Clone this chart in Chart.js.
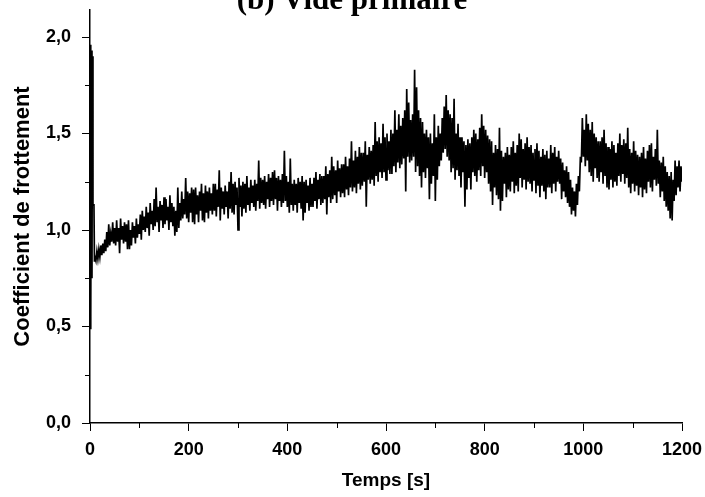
<!DOCTYPE html>
<html>
<head>
<meta charset="utf-8">
<script src="https://cdn.jsdelivr.net/npm/chart.js@4.4.1/dist/chart.umd.min.js"></script>
<style>
html,body{margin:0;padding:0;background:#fff;}
#wrap{position:relative;width:705px;height:497px;overflow:hidden;background:#fff;}
canvas{display:block;}
</style>
</head>
<body>
<div id="wrap"><canvas id="c" width="705" height="497"></canvas></div>
<script>
const chartTitle = "(b) Vide primaire";
const xTitle = "Temps [s]";
const yTitle = "Coefficient de frottement";

const xTickValues = [0, 200, 400, 600, 800, 1000, 1200];
const yTickValues = [0, 0.5, 1.0, 1.5, 2.0];
const xMinorTicks = [100, 300, 500, 700, 900, 1100];
const yMinorTicks = [0.25, 0.75, 1.25, 1.75];

const temps = [
  0, 1, 2, 3, 4, 5, 6, 8, 9, 10,
  12, 14, 16, 18, 20, 22, 24, 26, 28, 30,
  32, 34, 36, 38, 40, 42, 44, 46, 48, 50,
  52, 54, 56, 58, 60, 62, 64, 66, 68, 70,
  72, 74, 76, 78, 80, 82, 84, 86, 88, 90,
  92, 94, 96, 98, 100, 102, 104, 106, 108, 110,
  112, 114, 116, 118, 120, 122, 124, 126, 128, 130,
  132, 134, 136, 138, 140, 142, 144, 146, 148, 150,
  152, 154, 156, 158, 160, 162, 164, 166, 168, 170,
  172, 174, 176, 178, 180, 182, 184, 186, 188, 190,
  192, 194, 196, 198, 200, 202, 204, 206, 208, 210,
  212, 214, 216, 218, 220, 222, 224, 226, 228, 230,
  232, 234, 236, 238, 240, 242, 244, 246, 248, 250,
  252, 254, 256, 258, 260, 262, 264, 266, 268, 270,
  272, 274, 276, 278, 280, 282, 284, 286, 288, 290,
  292, 294, 296, 298, 300, 302, 304, 306, 308, 310,
  312, 314, 316, 318, 320, 322, 324, 326, 328, 330,
  332, 334, 336, 338, 340, 342, 344, 346, 348, 350,
  352, 354, 356, 358, 360, 362, 364, 366, 368, 370,
  372, 374, 376, 378, 380, 382, 384, 386, 388, 390,
  392, 394, 396, 398, 400, 402, 404, 406, 408, 410,
  412, 414, 416, 418, 420, 422, 424, 426, 428, 430,
  432, 434, 436, 438, 440, 442, 444, 446, 448, 450,
  452, 454, 456, 458, 460, 462, 464, 466, 468, 470,
  472, 474, 476, 478, 480, 482, 484, 486, 488, 490,
  492, 494, 496, 498, 500, 502, 504, 506, 508, 510,
  512, 514, 516, 518, 520, 522, 524, 526, 528, 530,
  532, 534, 536, 538, 540, 542, 544, 546, 548, 550,
  552, 554, 556, 558, 560, 562, 564, 566, 568, 570,
  572, 574, 576, 578, 580, 582, 584, 586, 588, 590,
  592, 594, 596, 598, 600, 602, 604, 606, 608, 610,
  612, 614, 616, 618, 620, 622, 624, 626, 628, 630,
  632, 634, 636, 638, 640, 642, 644, 646, 648, 650,
  652, 654, 656, 658, 660, 662, 664, 666, 668, 670,
  672, 674, 676, 678, 680, 682, 684, 686, 688, 690,
  692, 694, 696, 698, 700, 702, 704, 706, 708, 710,
  712, 714, 716, 718, 720, 722, 724, 726, 728, 730,
  732, 734, 736, 738, 740, 742, 744, 746, 748, 750,
  752, 754, 756, 758, 760, 762, 764, 766, 768, 770,
  772, 774, 776, 778, 780, 782, 784, 786, 788, 790,
  792, 794, 796, 798, 800, 802, 804, 806, 808, 810,
  812, 814, 816, 818, 820, 822, 824, 826, 828, 830,
  832, 834, 836, 838, 840, 842, 844, 846, 848, 850,
  852, 854, 856, 858, 860, 862, 864, 866, 868, 870,
  872, 874, 876, 878, 880, 882, 884, 886, 888, 890,
  892, 894, 896, 898, 900, 902, 904, 906, 908, 910,
  912, 914, 916, 918, 920, 922, 924, 926, 928, 930,
  932, 934, 936, 938, 940, 942, 944, 946, 948, 950,
  952, 954, 956, 958, 960, 962, 964, 966, 968, 970,
  972, 974, 976, 978, 980, 982, 984, 986, 988, 990,
  992, 994, 996, 998, 1000, 1002, 1004, 1006, 1008, 1010,
  1012, 1014, 1016, 1018, 1020, 1022, 1024, 1026, 1028, 1030,
  1032, 1034, 1036, 1038, 1040, 1042, 1044, 1046, 1048, 1050,
  1052, 1054, 1056, 1058, 1060, 1062, 1064, 1066, 1068, 1070,
  1072, 1074, 1076, 1078, 1080, 1082, 1084, 1086, 1088, 1090,
  1092, 1094, 1096, 1098, 1100, 1102, 1104, 1106, 1108, 1110,
  1112, 1114, 1116, 1118, 1120, 1122, 1124, 1126, 1128, 1130,
  1132, 1134, 1136, 1138, 1140, 1142, 1144, 1146, 1148, 1150,
  1152, 1154, 1156, 1158, 1160, 1162, 1164, 1166, 1168, 1170,
  1172, 1174, 1176, 1178, 1180, 1182, 1184, 1186, 1188, 1190,
  1192, 1194, 1196, 1198, 1200
];

const coef = [
  0.49, 1.96, 0.55, 1.93, 0.75, 1.90, 1.13, 1.13, 0.84, 0.86,
  0.84, 0.89, 0.85, 0.90, 0.86, 0.92, 0.87, 0.93, 0.88, 0.95,
  0.89, 0.99, 0.91, 1.03, 0.92, 0.98, 0.94, 1.04, 0.93, 1.01,
  0.92, 1.05, 0.94, 1.01, 0.88, 1.06, 0.95, 1.02, 0.93, 1.04,
  0.94, 1.03, 0.90, 1.05, 0.90, 1.00, 0.92, 1.04, 0.96, 1.02,
  0.93, 1.06, 0.96, 1.03, 0.98, 1.08, 0.95, 1.10, 1.00, 1.07,
  0.99, 1.12, 1.01, 1.09, 0.97, 1.14, 1.03, 1.10, 1.00, 1.16,
  1.02, 1.22, 1.04, 1.12, 0.99, 1.15, 1.05, 1.13, 1.01, 1.17,
  1.03, 1.16, 1.05, 1.12, 1.00, 1.18, 1.04, 1.14, 1.02, 1.12,
  0.97, 1.10, 0.99, 1.22, 1.01, 1.14, 1.05, 1.20, 1.06, 1.16,
  1.08, 1.27, 1.06, 1.20, 1.04, 1.19, 1.09, 1.22, 1.04, 1.21,
  1.03, 1.22, 1.08, 1.18, 1.04, 1.20, 1.10, 1.24, 1.05, 1.19,
  1.04, 1.23, 1.09, 1.20, 1.06, 1.22, 1.10, 1.19, 1.08, 1.24,
  1.10, 1.24, 1.07, 1.21, 1.12, 1.31, 1.05, 1.22, 1.11, 1.20,
  1.08, 1.23, 1.12, 1.20, 1.06, 1.25, 1.11, 1.30, 1.09, 1.24,
  1.08, 1.25, 1.13, 1.22, 1.00, 1.27, 1.12, 1.23, 1.07, 1.25,
  1.11, 1.24, 1.09, 1.28, 1.13, 1.22, 1.10, 1.26, 1.14, 1.23,
  1.12, 1.26, 1.10, 1.24, 1.15, 1.36, 1.11, 1.27, 1.14, 1.26,
  1.13, 1.28, 1.11, 1.25, 1.16, 1.29, 1.12, 1.27, 1.15, 1.30,
  1.13, 1.31, 1.16, 1.27, 1.10, 1.28, 1.15, 1.26, 1.12, 1.29,
  1.14, 1.41, 1.15, 1.28, 1.12, 1.25, 1.09, 1.37, 1.13, 1.24,
  1.10, 1.26, 1.13, 1.24, 1.09, 1.27, 1.14, 1.25, 1.11, 1.28,
  1.05, 1.25, 1.09, 1.26, 1.14, 1.23, 1.10, 1.27, 1.12, 1.24,
  1.12, 1.27, 1.15, 1.30, 1.11, 1.26, 1.16, 1.29, 1.13, 1.28,
  1.14, 1.28, 1.16, 1.33, 1.08, 1.29, 1.17, 1.31, 1.14, 1.38,
  1.16, 1.33, 1.18, 1.31, 1.14, 1.36, 1.20, 1.32, 1.17, 1.34,
  1.19, 1.34, 1.17, 1.38, 1.21, 1.33, 1.18, 1.37, 1.22, 1.46,
  1.20, 1.36, 1.22, 1.41, 1.19, 1.38, 1.24, 1.43, 1.21, 1.40,
  1.23, 1.40, 1.25, 1.46, 1.12, 1.39, 1.26, 1.43, 1.24, 1.41,
  1.26, 1.44, 1.23, 1.56, 1.28, 1.46, 1.25, 1.48, 1.30, 1.45,
  1.27, 1.55, 1.30, 1.48, 1.26, 1.50, 1.31, 1.46, 1.29, 1.52,
  1.29, 1.50, 1.33, 1.62, 1.30, 1.52, 1.35, 1.60, 1.32, 1.54,
  1.34, 1.58, 1.37, 1.62, 1.20, 1.73, 1.38, 1.66, 1.35, 1.57,
  1.36, 1.60, 1.38, 1.83, 1.30, 1.74, 1.33, 1.62, 1.28, 1.58,
  1.22, 1.56, 1.30, 1.50, 1.27, 1.52, 1.32, 1.48, 1.16, 1.50,
  1.24, 1.45, 1.28, 1.60, 1.15, 1.48, 1.26, 1.54, 1.33, 1.50,
  1.36, 1.58, 1.40, 1.64, 1.42, 1.70, 1.38, 1.62, 1.36, 1.60,
  1.30, 1.58, 1.32, 1.68, 1.26, 1.50, 1.31, 1.55, 1.28, 1.48,
  1.22, 1.48, 1.30, 1.46, 1.12, 1.44, 1.21, 1.47, 1.27, 1.45,
  1.21, 1.48, 1.30, 1.52, 1.28, 1.50, 1.25, 1.47, 1.31, 1.53,
  1.28, 1.60, 1.33, 1.54, 1.27, 1.52, 1.30, 1.49, 1.24, 1.47,
  1.20, 1.46, 1.13, 1.40, 1.22, 1.44, 1.18, 1.42, 1.16, 1.53,
  1.10, 1.41, 1.15, 1.38, 1.24, 1.40, 1.17, 1.43, 1.21, 1.39,
  1.20, 1.43, 1.25, 1.46, 1.19, 1.40, 1.23, 1.44, 1.20, 1.50,
  1.27, 1.47, 1.22, 1.42, 1.26, 1.45, 1.21, 1.48, 1.25, 1.43,
  1.24, 1.44, 1.20, 1.40, 1.26, 1.42, 1.19, 1.45, 1.23, 1.41,
  1.17, 1.38, 1.23, 1.42, 1.20, 1.39, 1.16, 1.41, 1.22, 1.37,
  1.22, 1.44, 1.19, 1.40, 1.24, 1.43, 1.20, 1.38, 1.25, 1.41,
  1.24, 1.37, 1.16, 1.35, 1.20, 1.31, 1.17, 1.33, 1.14, 1.30,
  1.12, 1.26, 1.08, 1.22, 1.10, 1.20, 1.07, 1.24, 1.13, 1.28,
  1.20, 1.38, 1.35, 1.58, 1.38, 1.52, 1.33, 1.60, 1.36, 1.55,
  1.30, 1.52, 1.28, 1.56, 1.25, 1.50, 1.32, 1.48, 1.27, 1.46,
  1.25, 1.46, 1.30, 1.48, 1.24, 1.52, 1.28, 1.45, 1.22, 1.43,
  1.21, 1.42, 1.26, 1.46, 1.22, 1.44, 1.25, 1.40, 1.23, 1.45,
  1.28, 1.50, 1.25, 1.44, 1.29, 1.47, 1.24, 1.45, 1.27, 1.53,
  1.22, 1.42, 1.19, 1.40, 1.24, 1.46, 1.20, 1.41, 1.23, 1.39,
  1.18, 1.38, 1.22, 1.40, 1.17, 1.43, 1.21, 1.37, 1.19, 1.41,
  1.25, 1.44, 1.22, 1.45, 1.20, 1.38, 1.26, 1.42, 1.23, 1.52,
  1.24, 1.36, 1.17, 1.35, 1.20, 1.38, 1.15, 1.33, 1.12, 1.30,
  1.10, 1.28, 1.06, 1.30, 1.05, 1.26, 1.15, 1.36, 1.18, 1.33,
  1.22, 1.36, 1.20, 1.33, 1.25
];

const points = temps.map((t, i) => ({ x: t, y: coef[i] }));

const extras = {
  id: 'extras',
  afterDraw(chart) {
    const ctx = chart.ctx;
    const xs = chart.scales.x, ys = chart.scales.y;
    const area = chart.chartArea;
    ctx.save();
    ctx.strokeStyle = '#000';
    ctx.lineWidth = 1;
    ctx.beginPath();
    yMinorTicks.forEach(v => {
      const py = Math.round(ys.getPixelForValue(v)) + 0.5;
      ctx.moveTo(area.left - 5, py);
      ctx.lineTo(area.left, py);
    });
    xMinorTicks.forEach(v => {
      const px = Math.round(xs.getPixelForValue(v)) + 0.5;
      ctx.moveTo(px, area.bottom);
      ctx.lineTo(px, area.bottom + 5);
    });
    ctx.stroke();
    ctx.fillStyle = '#000';
    ctx.font = 'bold 31px "Liberation Serif", "Times New Roman", serif';
    ctx.textAlign = 'center';
    ctx.textBaseline = 'alphabetic';
    ctx.fillText(chartTitle, 352, 9);
    ctx.restore();
  }
};

new Chart(document.getElementById('c'), {
  type: 'line',
  data: {
    datasets: [{
      data: points,
      borderColor: '#000',
      borderWidth: 1.7,
      pointRadius: 0,
      tension: 0,
      fill: false
    }]
  },
  options: {
    responsive: false,
    animation: false,
    devicePixelRatio: 1,
    layout: { padding: { left: 0, right: 23, top: 10, bottom: 0 } },
    plugins: { legend: { display: false }, tooltip: { enabled: false }, title: { display: false } },
    scales: {
      x: {
        type: 'linear',
        min: 0, max: 1200,
        afterBuildTicks: s => { s.ticks = xTickValues.map(v => ({ value: v })); },
        afterFit: s => { s.height = 74; s.paddingLeft = 0; s.paddingRight = 0; },
        border: { display: true, color: '#000', width: 1.5 },
        grid: { drawOnChartArea: false, drawTicks: true, tickLength: 8, color: '#000', lineWidth: 1 },
        ticks: {
          color: '#000', padding: 8, maxRotation: 0, autoSkip: false,
          font: { family: '"Liberation Sans", Arial, sans-serif', size: 18, weight: 'bold' },
          callback: v => String(v)
        },
        title: {
          display: true, text: xTitle, color: '#000',
          font: { family: '"Liberation Sans", Arial, sans-serif', size: 19, weight: 'bold' },
          padding: { top: 0, bottom: 5 }
        }
      },
      y: {
        type: 'linear',
        min: 0, max: 2.14,
        afterBuildTicks: s => { s.ticks = yTickValues.map(v => ({ value: v })); },
        afterFit: s => { s.width = 90; s.paddingTop = 0; s.paddingBottom = 0; },
        border: { display: true, color: '#000', width: 1.5 },
        grid: { drawOnChartArea: false, drawTicks: true, tickLength: 8, color: '#000', lineWidth: 1 },
        ticks: {
          color: '#000', padding: 11, autoSkip: false,
          font: { family: '"Liberation Sans", Arial, sans-serif', size: 18, weight: 'bold' },
          callback: v => Number(v).toFixed(1).replace('.', ',')
        },
        title: {
          display: true, text: yTitle, color: '#000',
          font: { family: '"Liberation Sans", Arial, sans-serif', size: 22, weight: 'bold' },
          padding: { top: 10, bottom: 0 }
        }
      }
    }
  },
  plugins: [extras]
});
</script>
</body>
</html>
